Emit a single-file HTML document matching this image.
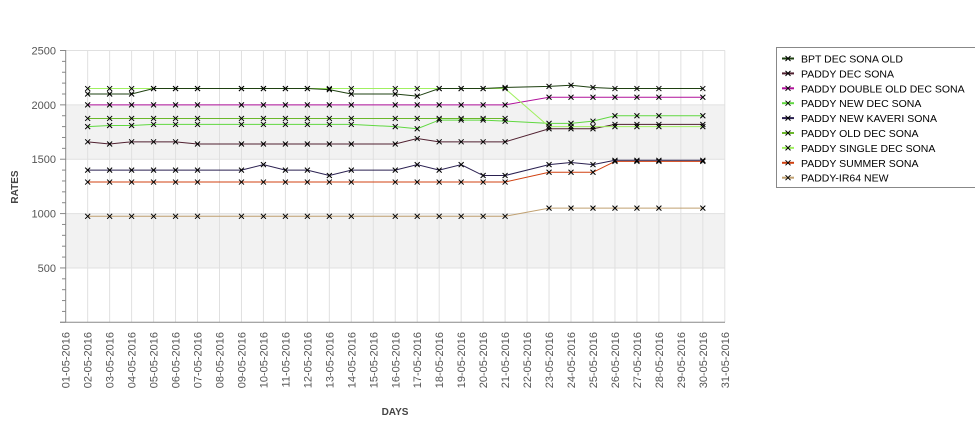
<!DOCTYPE html><html><head><style>body{margin:0;background:#fff}svg{display:block;font-family:"Liberation Sans","DejaVu Sans",sans-serif}</style></head><body>
<svg id="s" width="975" height="429" xmlns="http://www.w3.org/2000/svg"></svg>
<script>
const s=document.getElementById('s');let h='';
const X=d=>65.7+(d-1)*21.97, Y=v=>322.3-v*0.10872;
h+=`<rect x="65.7" y="${Y(2000)}" width="659" height="${Y(1500)-Y(2000)}" fill="#f2f2f2"/>`;
h+=`<rect x="65.7" y="${Y(1000)}" width="659" height="${Y(500)-Y(1000)}" fill="#f2f2f2"/>`;
for(let d=2;d<=31;d++)h+=`<line x1="${X(d)}" y1="50.5" x2="${X(d)}" y2="322" stroke="#e0e0e0"/>`;
for(let v=500;v<=2500;v+=500)h+=`<line x1="65.7" y1="${Y(v)}" x2="725" y2="${Y(v)}" stroke="#e0e0e0"/>`;
h+=`<line x1="65.7" y1="50" x2="65.7" y2="322.3" stroke="#888"/><line x1="60" y1="322.3" x2="725" y2="322.3" stroke="#888"/>`;
for(let v=0;v<=2500;v+=100){h+=`<line x1="${v%500?62:60}" y1="${Y(v)}" x2="65.7" y2="${Y(v)}" stroke="#888"/>`;}
for(let v=500;v<=2500;v+=500)h+=`<text x="56" y="${Y(v)+4}" font-size="11" fill="#555" text-anchor="end">${v}</text>`;
for(let d=1;d<=31;d++){const l=String(d).padStart(2,'0')+'-05-2016';h+=`<text transform="translate(${X(d)+4},332) rotate(-90)" font-size="11" fill="#555" text-anchor="end">${l}</text>`;}
h+=`<text x="395" y="415" font-size="10" font-weight="bold" fill="#444" text-anchor="middle">DAYS</text>`;
h+=`<text transform="translate(18,187) rotate(-90)" font-size="10" font-weight="bold" fill="#444" text-anchor="middle">RATES</text>`;
const D=[2,3,4,5,6,7,9,10,11,12,13,14,16,17,18,19,20,21,23,24,25,26,27,28,30];
function ser(c,vals){let p=vals.map(([d,v])=>X(d)+','+Y(v)).join(' ');h+=`<polyline points="${p}" fill="none" stroke="${c}" stroke-width="1"/>`;
for(const [d,v] of vals)h+=`<path d="M${X(d)-2.5} ${Y(v)-2.5}l5 5M${X(d)+2.5} ${Y(v)-2.5}l-5 5" stroke="#000" stroke-width="1"/>`;}
const fill=(f)=>D.map(d=>[d,f(d)]);
ser('#c0a070',fill(d=>d<=21?975:1050));
ser('#d04010',fill(d=>d<=21?1290:d<=25?1380:1480));
ser('#2a2050',fill(d=>({10:1450,13:1350,17:1450,19:1450,20:1350,21:1350,23:1450,24:1470,25:1450}[d]||(d>=26?1490:1400))));
ser('#502030',fill(d=>({2:1660,3:1640,4:1660,5:1660,6:1660,17:1690,18:1660,19:1660,20:1660,21:1660,23:1780,24:1780,25:1780}[d]||(d>=26?1820:1640))));
ser('#60d840',fill(d=>({2:1800,3:1810,4:1810,16:1800,17:1780,18:1860,19:1860,20:1860,21:1850,23:1830,24:1830,25:1850}[d]||(d>=26?1900:1820))));
ser('#6ab82a',D.filter(d=>d<=21).map(d=>[d,1875]));
ser('#b0109a',fill(d=>d<=21?2000:2070));
ser('#a0f060',fill(d=>d<=21?2150:1800));
ser('#1e4010',fill(d=>({2:2100,3:2100,4:2100,13:2140,14:2100,16:2100,17:2080,21:2160,23:2170,24:2180,25:2160}[d]||2150)));
h+=`<rect x="776.5" y="47.5" width="210" height="140" fill="#fff" stroke="#888"/>`;
const L=[['BPT DEC SONA OLD','#1e4010'],['PADDY DEC SONA','#502030'],['PADDY DOUBLE OLD DEC SONA','#b0109a'],['PADDY NEW DEC SONA','#60d840'],['PADDY NEW KAVERI SONA','#2a2050'],['PADDY OLD DEC SONA','#6ab82a'],['PADDY SINGLE DEC SONA','#a0f060'],['PADDY SUMMER SONA','#d04010'],['PADDY-IR64 NEW','#c0a070']];
L.forEach(([t,c],i)=>{const y=58.5+i*14.9;h+=`<line x1="782" y1="${y}" x2="794" y2="${y}" stroke="${c}" stroke-width="2"/><path d="M${785.5} ${y-2.5}l5 5M${790.5} ${y-2.5}l-5 5" stroke="#000"/><text x="801" y="${y+4}" font-size="10.5" fill="#000">${t}</text>`;});
s.innerHTML=h;
</script></body></html>
